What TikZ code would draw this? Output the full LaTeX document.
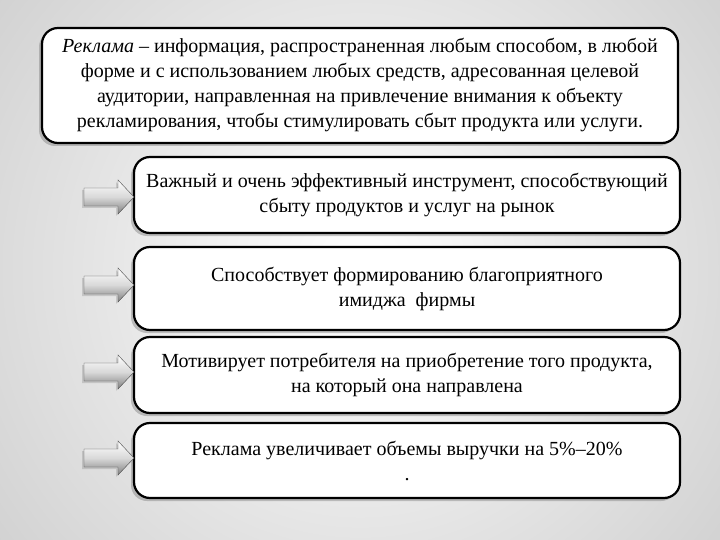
\documentclass[tikz,border=0pt]{standalone}
\usepackage{fontspec}
\setmainfont{Liberation Serif}
\usetikzlibrary{shadows}
\begin{document}
\begin{tikzpicture}[x=1pt,y=-1pt,
  box/.style={draw=black,line width=2.2pt,rounded corners=16pt,fill=white,
    drop shadow={shadow xshift=-3pt,shadow yshift=-3pt,opacity=0.45},
    align=center,font=\fontsize{20}{25}\selectfont,inner sep=0pt},
  arr/.style={draw=black!70,thin,top color=white,bottom color=black!50,middle color=black!15,
    drop shadow={shadow xshift=-2pt,shadow yshift=-2pt,opacity=0.3}}]
\fill[white] (0,0) rectangle (720,540);
\begin{scope}
\clip (0,0) rectangle (720,540);
\shade[inner color=white,outer color=black!35] (360,270) circle (900);
\end{scope}
\useasboundingbox (0,0) rectangle (720,540);
\node[box,minimum width=636pt,minimum height=115pt] (top) at (360,85.5)
 {\textit{Реклама} – информация, распространенная любым способом, в любой\\
  форме и с использованием любых средств, адресованная целевой\\
  аудитории, направленная на привлечение внимания к объекту\\
  рекламирования, чтобы стимулировать сбыт продукта или услуги.};
\node[box,minimum width=546pt,minimum height=76pt] (b1) at (407,195)
 {Важный и очень эффективный инструмент, способствующий\\сбыту продуктов и услуг на рынок};
\node[box,minimum width=546pt,minimum height=83pt] (b2) at (407,288.5)
 {Способствует формированию благоприятного\\имиджа\ \ фирмы};
\node[box,minimum width=546pt,minimum height=76pt] (b3) at (407,375)
 {Мотивирует потребителя на приобретение того продукта,\\на который она направлена};
\node[box,minimum width=546pt,minimum height=75pt] (b4) at (407,460.5)
 {Реклама увеличивает объемы выручки на 5\%–20\%\\.};
\foreach \b/\y in {b1/197,b2/285,b3/372,b4/458}{
  \coordinate (a\b) at (84,\y);
  \path[arr] ([yshift=9pt]a\b) -- ++(34,0) -- ++(0,-8) -- ++(16,17) -- ++(-16,17) -- ++(0,-8) -- ++(-34,0) -- cycle;
}
\end{tikzpicture}
\end{document}
